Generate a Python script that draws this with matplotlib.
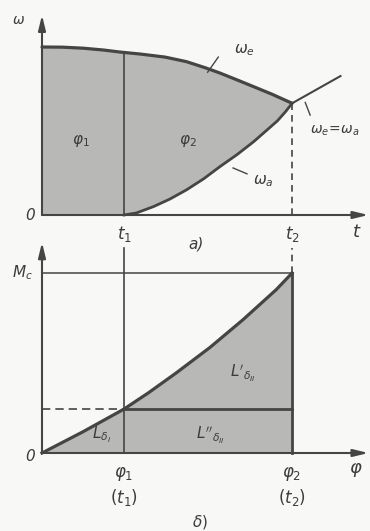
import matplotlib
matplotlib.use("Agg")
import matplotlib.pyplot as plt
import numpy as np

# ---- data ----
t1 = 1.0
t2 = 3.05
# upper panel: angular speeds vs time
t_e = [0.0, 0.25, 0.5, 0.75, 0.95, 1.2, 1.5, 1.76, 2.0, 2.17, 2.4, 2.58, 2.8, 3.05]
omega_e = [1.0, 0.999, 0.993, 0.982, 0.97, 0.958, 0.94, 0.913, 0.875, 0.845,
           0.80, 0.764, 0.72, 0.665]
t_e_ext = [3.05, 3.64]
omega_e_ext = [0.665, 0.827]
t_a = [1.0, 1.15, 1.36, 1.56, 1.76, 1.97, 2.17, 2.38, 2.58, 2.73, 2.87, 2.97, 3.05]
omega_a = [0.0, 0.012, 0.05, 0.095, 0.149, 0.215, 0.288, 0.36, 0.436, 0.50,
           0.56, 0.615, 0.665]
# lower panel: moment vs angle
phi = [0.0, 0.5, 1.0, 1.3, 1.64, 2.05, 2.45, 2.86, 3.05]
M = [0.0, 0.118, 0.244, 0.335, 0.446, 0.587, 0.74, 0.909, 1.0]
Mc = 1.0
M1 = 0.244

BG = "#f8f8f6"
FILL = "#b8b8b6"
LC = "#454545"
TC = "#3c3c3c"

W, H = 370, 531
fig = plt.figure(figsize=(W / 100, H / 100), dpi=100, facecolor=BG)
plt.rcParams["mathtext.fontset"] = "dejavusans"

px = 82.0   # pixels per x unit
x0 = 42.0   # pixel of origin x
xlim = (-x0 / px, (W - x0) / px)

def make_ax(top_px, bot_px, y0_px, scale):
    ax = fig.add_axes([0, 1 - bot_px / H, 1, (bot_px - top_px) / H])
    ax.set_xlim(*xlim)
    ax.set_ylim((y0_px - bot_px) / scale, (y0_px - top_px) / scale)
    ax.axis("off")
    ax.patch.set_visible(False)
    return ax

axA = make_ax(0, 265, 215, 168.0)
axB = make_ax(228, 531, 453, 180.0)

fs = 11
def txt(ax, x, y, s, size=fs, **kw):
    ax.text(x, y, s, fontsize=size, color=TC, ha="center", va="center",
            style="italic", **kw)

def arrow(ax, xy, xytext):
    ax.annotate("", xy=xy, xytext=xytext,
                arrowprops=dict(arrowstyle="-|>,head_length=0.9,head_width=0.22",
                                color=LC, lw=1.5, shrinkA=0, shrinkB=0))

# ---------- panel a) ----------
poly_x = list(t_e) + list(t_a[::-1]) + [0.0]
poly_y = list(omega_e) + list(omega_a[::-1]) + [0.0]
axA.fill(poly_x, poly_y, color=FILL, lw=0)
axA.plot(t_e, omega_e, color=LC, lw=2.3, solid_capstyle="round", solid_joinstyle="round")
axA.plot(t_a, omega_a, color=LC, lw=2.0, solid_joinstyle="round")
axA.plot(t_e_ext, omega_e_ext, color=LC, lw=1.5)
axA.plot([t1, t1], [0, float(np.interp(t1, t_e, omega_e))], color=LC, lw=1.2)
axA.plot([t2, t2], [0, omega_e[-1]], color=LC, lw=1.2, ls=(0, (4, 3)))
arrow(axA, (0, 1.19), (0, 0))
arrow(axA, (3.98, 0), (0, 0))
# leader lines
axA.plot([2.02, 2.15], [0.85, 0.94], color=LC, lw=1.0)
axA.plot([2.33, 2.5], [0.28, 0.245], color=LC, lw=1.0)
axA.plot([3.21, 3.27], [0.67, 0.595], color=LC, lw=1.0)

txt(axA, -0.29, 1.16, r"$\omega$", size=10)
txt(axA, -0.15, 0.0, "0", size=11)
txt(axA, t1, -0.115, r"$t_1$", size=12)
txt(axA, t2, -0.115, r"$t_2$", size=12)
txt(axA, 3.84, -0.1, r"$t$", size=13)
txt(axA, 1.88, -0.17, "a)", size=11)
txt(axA, 2.47, 0.98, r"$\omega_e$", size=11)
txt(axA, 3.57, 0.5, r"$\omega_e\!=\!\omega_a$", size=10)
txt(axA, 2.7, 0.2, r"$\omega_a$", size=11)
txt(axA, 0.47, 0.44, r"$\varphi_1$", size=11)
txt(axA, 1.78, 0.44, r"$\varphi_2$", size=11)

# ---------- panel b) ----------
axB.fill(list(phi) + [phi[-1]], list(M) + [0.0], color=FILL, lw=0)
axB.plot(phi, M, color=LC, lw=2.3, solid_joinstyle="round")
axB.plot([0, t2], [Mc, Mc], color=LC, lw=1.1)
axB.plot([t1, t2], [M1, M1], color=LC, lw=2.0)
axB.plot([0, t1], [M1, M1], color=LC, lw=1.2, ls=(0, (5, 3)))
axB.plot([t1, t1], [0, 1.14], color=LC, lw=1.2)
axB.plot([t2, t2], [0, Mc], color=LC, lw=2.0)
axB.plot([t2, t2], [Mc, 1.14], color=LC, lw=1.2, ls=(0, (4, 3)))
arrow(axB, (0, 1.17), (0, 0))
arrow(axB, (3.98, 0), (0, 0))

txt(axB, -0.24, 1.0, r"$M_c$", size=11)
txt(axB, -0.15, -0.02, "0", size=11)
txt(axB, t1, -0.115, r"$\varphi_1$", size=12)
txt(axB, t1, -0.245, r"$(t_1)$", size=12)
txt(axB, t2, -0.115, r"$\varphi_2$", size=12)
txt(axB, t2, -0.245, r"$(t_2)$", size=12)
txt(axB, 3.83, -0.095, r"$\varphi$", size=13)
txt(axB, 1.93, -0.385, r"$\delta)$", size=11)
txt(axB, 2.45, 0.44, r"$L'_{\delta_{II}}$", size=11)
txt(axB, 2.05, 0.1, r"$L''_{\delta_{II}}$", size=11)
txt(axB, 0.72, 0.1, r"$L_{\delta_I}$", size=11)

fig.savefig("out.png", dpi=100, facecolor=BG)
